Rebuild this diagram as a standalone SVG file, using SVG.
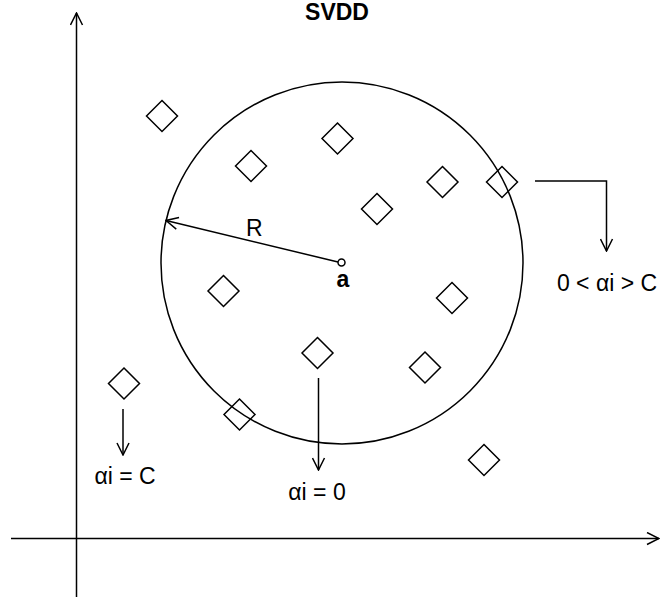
<svg xmlns="http://www.w3.org/2000/svg" width="661" height="601" viewBox="0 0 661 601">
  <style>
    .ln { fill: none; stroke: #000; stroke-width: 1.5; }
    .pt { fill: none; stroke: #000; stroke-width: 1.5; }
    .dot { fill: #fff; stroke: #000; stroke-width: 1.5; }
    .lbl { font-family: "Liberation Sans", Arial, sans-serif; font-size: 23px; fill: #000; }
    .bold { font-weight: bold; }
  </style>
  <defs>
    <marker id="open" viewBox="0 0 14 14" refX="13" refY="7" markerWidth="14" markerHeight="14" markerUnits="userSpaceOnUse" orient="auto">
      <path d="M1,1 L13,7 L1,13" fill="none" stroke="#000" stroke-width="1.5"/>
    </marker>
  </defs>

  <rect width="661" height="601" fill="#fff"/>

  <!-- title -->
  <text id="title" class="lbl bold" x="337" y="20" font-size="22" text-anchor="middle">SVDD</text>

  <!-- axes -->
  <g id="axes">
    <line class="ln" x1="76.5" y1="597" x2="76.5" y2="13" marker-end="url(#open)"/>
    <line class="ln" x1="11" y1="538.5" x2="659" y2="538.5" marker-end="url(#open)"/>
  </g>

  <!-- data points -->
  <g id="points">
    <path id="p1" class="pt" d="M162,100.5 L177.5,116 L162,131.5 L146.5,116 Z"/>
    <path id="p2" class="pt" d="M337.5,123 L353,138.5 L337.5,154 L322,138.5 Z"/>
    <path id="p3" class="pt" d="M251,150.5 L266.5,166 L251,181.5 L235.5,166 Z"/>
    <path id="p4" class="pt" d="M442.5,166.5 L458,182 L442.5,197.5 L427,182 Z"/>
    <path id="p5" class="pt" d="M502,166.5 L517.5,182 L502,197.5 L486.5,182 Z"/>
    <path id="p6" class="pt" d="M377,193.5 L392.5,209 L377,224.5 L361.5,209 Z"/>
    <path id="p7" class="pt" d="M223.5,275.5 L239,291 L223.5,306.5 L208,291 Z"/>
    <path id="p8" class="pt" d="M452,282.5 L467.5,298 L452,313.5 L436.5,298 Z"/>
    <path id="p9" class="pt" d="M317.5,337.5 L333,353 L317.5,368.5 L302,353 Z"/>
    <path id="p10" class="pt" d="M425,352 L440.5,367.5 L425,383 L409.5,367.5 Z"/>
    <path id="p11" class="pt" d="M124,368 L139.5,383.5 L124,399 L108.5,383.5 Z"/>
    <path id="p12" class="pt" d="M239.5,399 L255,414.5 L239.5,430 L224,414.5 Z"/>
    <path id="p13" class="pt" d="M484,444.5 L499.5,460 L484,475.5 L468.5,460 Z"/>
  </g>

  <!-- hypersphere with centre a and radius R -->
  <g id="sphere">
    <circle class="ln" cx="342" cy="263" r="181"/>
    <line class="ln" x1="338" y1="262" x2="166" y2="220.5" marker-end="url(#open)"/>
    <circle class="dot" cx="341.5" cy="262.5" r="3.5"/>
    <text class="lbl" x="246" y="236">R</text>
    <text class="lbl bold" x="343" y="287" text-anchor="middle">a</text>
  </g>

  <!-- connectors -->
  <g id="connectors">
    <path class="ln" d="M535,181 L606.5,181 L606.5,251" marker-end="url(#open)"/>
    <line class="ln" x1="123" y1="409" x2="123" y2="455" marker-end="url(#open)"/>
    <line class="ln" x1="318.5" y1="378" x2="318.5" y2="470" marker-end="url(#open)"/>
  </g>

  <!-- labels -->
  <g id="labels">
    <text class="lbl" x="607" y="291" text-anchor="middle">0 &lt; αi &gt; C</text>
    <text class="lbl" x="125" y="484" text-anchor="middle">αi = C</text>
    <text class="lbl" x="317" y="500" text-anchor="middle">αi = 0</text>
  </g>
</svg>
